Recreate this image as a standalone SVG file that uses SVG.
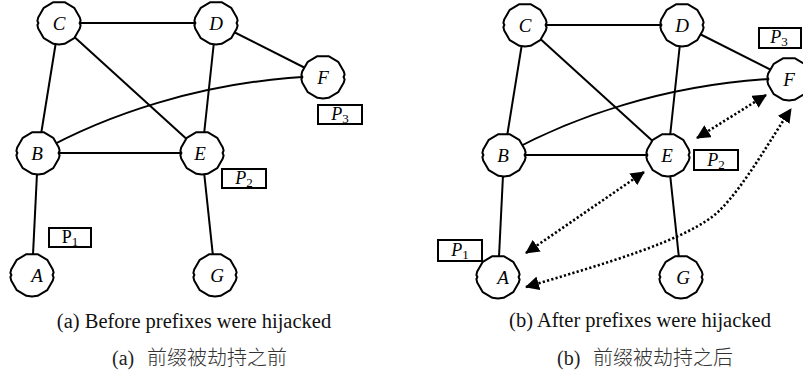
<svg xmlns="http://www.w3.org/2000/svg" xmlns:xlink="http://www.w3.org/1999/xlink" width="803" height="374" viewBox="0 0 803 374">
  <style>
    .edge { fill: none; stroke: #000; stroke-width: 2; }
    .dot { fill: none; stroke: #000; stroke-width: 2.6; stroke-dasharray: 2.2 2.2; }
    .node { fill: #fff; stroke: #000; stroke-width: 2; stroke-linejoin: round; }
    .lbl { font-family: "Liberation Serif", "Times New Roman", serif; font-style: italic; font-size: 19px; text-anchor: middle; fill: #000; }
    .box { fill: #fff; stroke: #000; stroke-width: 2; }
    .pfx { font-family: "Liberation Serif", "Times New Roman", serif; font-style: italic; font-size: 18px; text-anchor: middle; fill: #000; }
    .up { font-style: normal; }
    .sub { font-style: normal; font-size: 13px; }
    .cap { font-family: "Liberation Serif", "Times New Roman", serif; font-size: 20.5px; text-anchor: middle; fill: #111; }
    .zh { font-family: "Liberation Serif", "Noto Sans CJK SC", serif; font-size: 20px; fill: #222; }
    .zhc { font-family: "Noto Sans CJK SC", sans-serif; font-size: 20px; font-weight: 300; fill: #333; }
  </style>
  <defs>
    <!-- router outline: hand-drawn looking 12-gon with small bumps on the flanks -->
    <path id="router" d="M20.8,-5.6 L21.6,-2.4 L20.6,0 L21.6,2.4 L20.8,5.6 L15.2,15.2 L5.6,20.8 L0,21.6 L-5.6,20.8 L-15.2,15.2 L-20.8,5.6 L-21.6,2 L-20.6,0 L-21.6,-2 L-20.8,-5.6 L-15.2,-15.2 L-5.6,-20.8 L5.6,-20.8 L15.2,-15.2 Z"/>
    <marker id="head" viewBox="0 0 14 14" markerWidth="14" markerHeight="14" refX="13" refY="7" markerUnits="userSpaceOnUse" orient="auto-start-reverse">
      <path d="M0,0 L14,7 L0,14 Z" fill="#000"/>
    </marker>
  </defs>

  <!-- (a) topology links -->
  <g id="links-a">
    <line class="edge" x1="59" y1="23" x2="216" y2="23"/>
    <line class="edge" x1="59" y1="23" x2="38" y2="153"/>
    <line class="edge" x1="59" y1="23" x2="202" y2="153"/>
    <line class="edge" x1="216" y1="23" x2="202" y2="153"/>
    <line class="edge" x1="216" y1="23" x2="323" y2="77"/>
    <path class="edge" d="M38,153 C100,118 200,80 323,76"/>
    <line class="edge" x1="38" y1="153" x2="202" y2="153"/>
    <line class="edge" x1="38" y1="153" x2="32" y2="275"/>
    <line class="edge" x1="202" y1="153" x2="215" y2="275"/>
  </g>

  <!-- (b) topology links and hijacked routes -->
  <g id="links-b">
    <line class="edge" x1="525" y1="25" x2="682" y2="25"/>
    <line class="edge" x1="525" y1="25" x2="504" y2="155"/>
    <line class="edge" x1="525" y1="25" x2="668" y2="155"/>
    <line class="edge" x1="682" y1="25" x2="668" y2="155"/>
    <line class="edge" x1="682" y1="25" x2="789" y2="79"/>
    <path class="edge" d="M504,155 C566,120 666,82 789,78"/>
    <line class="edge" x1="504" y1="155" x2="668" y2="155"/>
    <line class="edge" x1="504" y1="155" x2="498" y2="277"/>
    <line class="edge" x1="668" y1="155" x2="681" y2="277"/>
    <path class="dot" d="M697,138 L766,95" marker-start="url(#head)" marker-end="url(#head)"/>
    <path class="dot" d="M526,253 L644,172" marker-start="url(#head)" marker-end="url(#head)"/>
    <path class="dot" d="M526,287 C600,265 690,240 720,210 C745,185 770,140 791,109" marker-start="url(#head)" marker-end="url(#head)"/>
  </g>

  <!-- (a) routers -->
  <g id="a-C"><use xlink:href="#router" href="#router" class="node" x="59" y="23"/><text class="lbl" x="59" y="30">C</text></g>
  <g id="a-D"><use xlink:href="#router" href="#router" class="node" x="216" y="23"/><text class="lbl" x="216" y="30">D</text></g>
  <g id="a-F"><use xlink:href="#router" href="#router" class="node" x="323" y="77"/><text class="lbl" x="323" y="84">F</text></g>
  <g id="a-B"><use xlink:href="#router" href="#router" class="node" x="38" y="153"/><text class="lbl" x="37" y="160">B</text></g>
  <g id="a-E"><use xlink:href="#router" href="#router" class="node" x="202" y="153"/><text class="lbl" x="200" y="160">E</text></g>
  <g id="a-A"><use xlink:href="#router" href="#router" class="node" x="32" y="275"/><text class="lbl" x="37" y="282">A</text></g>
  <g id="a-G"><use xlink:href="#router" href="#router" class="node" x="215" y="275"/><text class="lbl" x="217" y="282">G</text></g>

  <!-- (a) prefixes -->
  <g id="a-P3"><rect class="box" x="318" y="105" width="44" height="19"/><text class="pfx" x="340" y="120">P<tspan class="sub" dy="3">3</tspan></text></g>
  <g id="a-P2"><rect class="box" x="222" y="169" width="44" height="19"/><text class="pfx" x="244" y="184">P<tspan class="sub" dy="3">2</tspan></text></g>
  <g id="a-P1"><rect class="box" x="49" y="228" width="42" height="19"/><text class="pfx up" x="70" y="243">P<tspan class="sub" dy="3">1</tspan></text></g>

  <!-- (b) routers -->
  <g id="b-C"><use xlink:href="#router" href="#router" class="node" x="525" y="25"/><text class="lbl" x="525" y="32">C</text></g>
  <g id="b-D"><use xlink:href="#router" href="#router" class="node" x="682" y="25"/><text class="lbl" x="682" y="32">D</text></g>
  <g id="b-F"><use xlink:href="#router" href="#router" class="node" x="789" y="79"/><text class="lbl" x="789" y="86">F</text></g>
  <g id="b-B"><use xlink:href="#router" href="#router" class="node" x="504" y="155"/><text class="lbl" x="503" y="162">B</text></g>
  <g id="b-E"><use xlink:href="#router" href="#router" class="node" x="668" y="155"/><text class="lbl" x="667" y="162">E</text></g>
  <g id="b-A"><use xlink:href="#router" href="#router" class="node" x="498" y="277"/><text class="lbl" x="503" y="284">A</text></g>
  <g id="b-G"><use xlink:href="#router" href="#router" class="node" x="681" y="277"/><text class="lbl" x="683" y="284">G</text></g>

  <!-- (b) prefixes -->
  <g id="b-P3"><rect class="box" x="759" y="28" width="42" height="20"/><text class="pfx" x="779" y="43">P<tspan class="sub" dy="3">3</tspan></text></g>
  <g id="b-P2"><rect class="box" x="694" y="150" width="44" height="20"/><text class="pfx" x="716" y="166">P<tspan class="sub" dy="3">2</tspan></text></g>
  <g id="b-P1"><rect class="box" x="438" y="240" width="44" height="21"/><text class="pfx" x="460" y="256">P<tspan class="sub" dy="3">1</tspan></text></g>

  <!-- captions -->
  <g id="captions">
    <text class="cap" x="194" y="328">(a) Before prefixes were hijacked</text>
    <text class="cap" x="640" y="327">(b) After prefixes were hijacked</text>
    <text class="zh" x="112" y="365">(a)<tspan class="zhc" x="147">前缀被劫持之前</tspan></text>
    <text class="zh" x="557" y="365">(b)<tspan class="zhc" x="593">前缀被劫持之后</tspan></text>
  </g>
</svg>
